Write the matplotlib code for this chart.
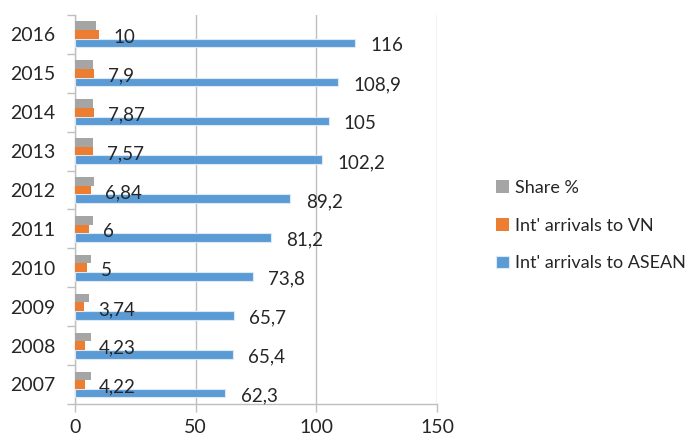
import numpy as np
import matplotlib.pyplot as plt

years = ["2007", "2008", "2009", "2010", "2011", "2012", "2013", "2014", "2015", "2016"]
asean = [62.3, 65.4, 65.7, 73.8, 81.2, 89.2, 102.2, 105, 108.9, 116]
vn = [4.22, 4.23, 3.74, 5, 6, 6.84, 7.57, 7.87, 7.9, 10]
share = [6.8, 6.5, 5.7, 6.8, 7.4, 7.7, 7.4, 7.5, 7.3, 8.6]

asean_labels = ["62,3", "65,4", "65,7", "73,8", "81,2", "89,2", "102,2", "105", "108,9", "116"]
vn_labels = ["4,22", "4,23", "3,74", "5", "6", "6,84", "7,57", "7,87", "7,9", "10"]

c_share = "#A5A5A5"
c_vn = "#ED7D31"
c_asean = "#5B9BD5"
grid_c = "#BFBFBF"
txt_c = "#262626"

plt.rcParams['font.family'] = ['Lato', 'DejaVu Sans']

fig = plt.figure(figsize=(6.94, 4.40), dpi=100)
ax = fig.add_axes([0.108, 0.082, 0.522, 0.884])

y = np.arange(len(years))
h = 0.222

ax.barh(y - h, asean, height=h, color=c_asean, edgecolor="#DCE9F5", linewidth=0.8,
        label="Int' arrivals to ASEAN", zorder=3)
ax.barh(y, vn, height=h, color=c_vn, label="Int' arrivals to VN", zorder=3)
ax.barh(y + h, share, height=h, color=c_share, label="Share %", zorder=3)

for i in range(len(years)):
    ax.annotate(asean_labels[i], (asean[i], y[i] - h), xytext=(11, -2),
                textcoords="offset points", ha="left", va="center",
                fontsize=13.5, color=txt_c, zorder=4)
    ax.annotate(vn_labels[i], (vn[i], y[i]), xytext=(10, -2),
                textcoords="offset points", ha="left", va="center",
                fontsize=13.5, color=txt_c, zorder=4)

ax.set_xlim(0, 150)
ax.set_xticks([0, 50, 100, 150])
ax.set_ylim(-0.5, len(years) - 0.5)
ax.set_yticks(y)
ax.set_yticklabels(years)
ax.set_yticks(np.arange(-0.5, len(years), 1), minor=True)
ax.tick_params(axis="y", which="major", length=0, pad=14, labelsize=14, labelcolor=txt_c)
ax.tick_params(axis="y", which="minor", length=6, color=grid_c, width=1)
ax.tick_params(axis="x", which="major", length=6, color=grid_c, width=1, labelsize=14,
               labelcolor=txt_c, pad=5)

ax.grid(axis="x", color=grid_c, linewidth=1, zorder=0)
for side in ["top", "right"]:
    ax.spines[side].set_visible(False)
for side in ["left", "bottom"]:
    ax.spines[side].set_color(grid_c)
    ax.spines[side].set_linewidth(1)

handles, labels = ax.get_legend_handles_labels()
fig.legend(handles[::-1], labels[::-1], loc="center left", bbox_to_anchor=(0.692, 0.487),
           frameon=False, fontsize=13, handlelength=0.7, handleheight=0.7,
           handletextpad=0.35, labelspacing=1.2, labelcolor=txt_c)

fig.savefig("out.png", dpi=100)
